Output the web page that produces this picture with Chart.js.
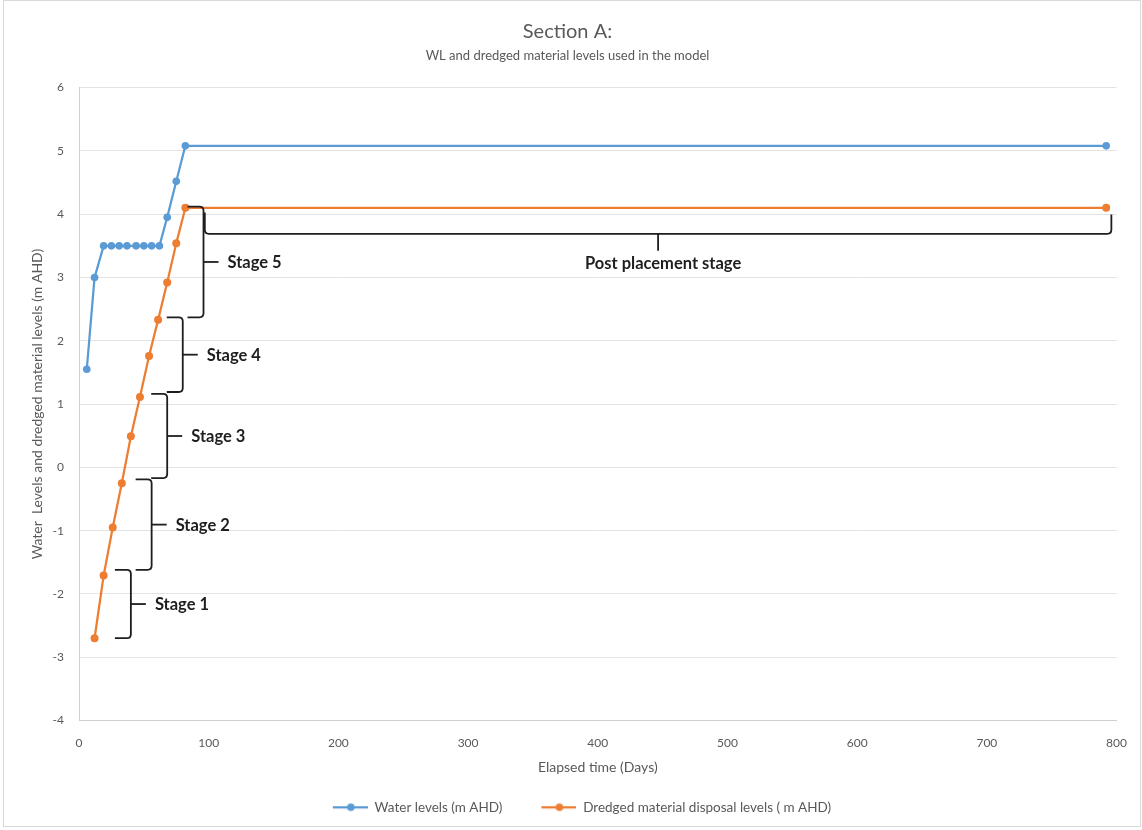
<!DOCTYPE html>
<html>
<head>
<meta charset="utf-8">
<title>Section A: WL and dredged material levels</title>
<script src="https://cdn.jsdelivr.net/npm/chart.js@4/dist/chart.umd.min.js"></script>
<style>
  html, body { margin: 0; padding: 0; background: #ffffff; }
  #wrap { width: 1142px; height: 830px; position: relative; }
</style>
</head>
<body>
<div id="wrap"><canvas id="chart" width="1142" height="830"></canvas></div>
<script>
// Water levels (m AHD) against elapsed time (days)
const waterDays   = [6, 12, 19, 25, 31, 37, 44, 50, 56, 62, 68, 75, 82, 792];
const waterLevels = [1.55, 3.0, 3.5, 3.5, 3.5, 3.5, 3.5, 3.5, 3.5, 3.5, 3.95, 4.52, 5.08, 5.08];

// Dredged material disposal levels (m AHD) against elapsed time (days)
const disposalDays   = [12, 19, 26, 33, 40, 47, 54, 61, 68, 75, 82, 792];
const disposalLevels = [-2.7, -1.71, -0.95, -0.25, 0.49, 1.11, 1.76, 2.33, 2.92, 3.54, 4.1, 4.1];

// Placement stages: brace spine (days) and the level range each stage covers
const stageNames   = ['Stage 1', 'Stage 2', 'Stage 3', 'Stage 4', 'Stage 5'];
const stageSpine   = [40, 56, 68, 80, 96];
const stageTop     = [-1.62, -0.19, 1.16, 2.37, 4.12];
const stageBottom  = [-2.7, -1.62, -0.17, 1.19, 2.37];

// Post placement stage: time span and brace level
const postName  = 'Post placement stage';
const postFrom  = 97;
const postTo    = 796;
const postLevel = 3.69;
const postTop   = 4.12;

const seriesNames = ['Water levels (m AHD)', 'Dredged material disposal levels ( m AHD)'];
const seriesColors = ['#5b9bd5', '#ed7d31'];

const xTicks = [0, 100, 200, 300, 400, 500, 600, 700, 800];
const yTicks = [-4, -3, -2, -1, 0, 1, 2, 3, 4, 5, 6];

const toPoints = (xs, ys) => xs.map((x, i) => ({ x: x, y: ys[i] }));

// Legend swatch: short line with a marker in the middle
function legendSwatch(color) {
  const c = document.createElement('canvas');
  c.width = 64; c.height = 12;
  const g = c.getContext('2d');
  g.strokeStyle = color; g.lineWidth = 2.25;
  g.beginPath(); g.moveTo(29, 6); g.lineTo(64, 6); g.stroke();
  g.fillStyle = color;
  g.beginPath(); g.arc(47, 6, 3.8, 0, Math.PI * 2); g.fill();
  return c;
}
const swatches = seriesColors.map(legendSwatch);

// Curly braces and stage captions drawn over the plot
const bracePlugin = {
  id: 'stageBraces',
  afterDatasetsDraw(chart) {
    const ctx = chart.ctx;
    const xs = chart.scales.x, ys = chart.scales.y;
    ctx.save();
    ctx.strokeStyle = '#1e1e1e';
    ctx.lineWidth = 1.8;
    ctx.lineJoin = 'round';
    ctx.fillStyle = '#1e1e1e';
    ctx.font = 'bold 16.5px Lato, "Open Sans", sans-serif';
    const endLen = 16, pointer = 15, r = 4;
    for (let i = 0; i < stageNames.length; i++) {
      const sx = xs.getPixelForValue(stageSpine[i]);
      const yt = ys.getPixelForValue(stageTop[i]);
      const yb = ys.getPixelForValue(stageBottom[i]);
      const ym = (yt + yb) / 2;
      ctx.beginPath();
      ctx.moveTo(sx - endLen, yt);
      ctx.lineTo(sx - r, yt);
      ctx.quadraticCurveTo(sx, yt, sx, yt + r);
      ctx.lineTo(sx, yb - r);
      ctx.quadraticCurveTo(sx, yb, sx - r, yb);
      ctx.lineTo(sx - endLen, yb);
      ctx.stroke();
      ctx.beginPath();
      ctx.moveTo(sx, ym);
      ctx.lineTo(sx + pointer, ym);
      ctx.stroke();
      ctx.textAlign = 'left';
      ctx.textBaseline = 'middle';
      ctx.fillText(stageNames[i], sx + pointer + 9, ym + 1);
    }
    // horizontal brace for the post placement period
    const x1 = xs.getPixelForValue(postFrom);
    const x2 = xs.getPixelForValue(postTo);
    const yl = ys.getPixelForValue(postLevel);
    const yu = ys.getPixelForValue(postTop);
    const xm = (x1 + x2) / 2;
    ctx.beginPath();
    ctx.moveTo(x1, yu + 6);
    ctx.lineTo(x1, yl - r);
    ctx.quadraticCurveTo(x1, yl, x1 + r, yl);
    ctx.lineTo(x2 - r, yl);
    ctx.quadraticCurveTo(x2, yl, x2, yl - r);
    ctx.lineTo(x2, yu + 8);
    ctx.stroke();
    ctx.beginPath();
    ctx.moveTo(xm, yl);
    ctx.lineTo(xm, yl + 17);
    ctx.stroke();
    ctx.textAlign = 'center';
    ctx.textBaseline = 'middle';
    ctx.fillText(postName, xm + 5, yl + 30);
    ctx.restore();
  }
};

// Thin frame round the whole chart
const framePlugin = {
  id: 'frame',
  beforeDraw(chart) {
    const ctx = chart.ctx;
    ctx.save();
    ctx.fillStyle = '#ffffff';
    ctx.fillRect(0, 0, chart.width, chart.height);
    ctx.strokeStyle = '#d9d9d9';
    ctx.lineWidth = 1;
    ctx.strokeRect(3.5, 0.5, chart.width - 5, chart.height - 4);
    ctx.restore();
  }
};

const textColor = '#595959';
const fontFamily = 'Lato, "Open Sans", sans-serif';

new Chart(document.getElementById('chart'), {
  type: 'line',
  data: {
    datasets: [
      {
        label: seriesNames[0],
        data: toPoints(waterDays, waterLevels),
        borderColor: seriesColors[0],
        backgroundColor: seriesColors[0],
        borderWidth: 2.25,
        pointRadius: 3.8,
        pointHoverRadius: 3.8,
        pointBackgroundColor: seriesColors[0],
        pointBorderWidth: 0,
        tension: 0
      },
      {
        label: seriesNames[1],
        data: toPoints(disposalDays, disposalLevels),
        borderColor: seriesColors[1],
        backgroundColor: seriesColors[1],
        borderWidth: 2.25,
        pointRadius: 4,
        pointHoverRadius: 4,
        pointBackgroundColor: seriesColors[1],
        pointBorderWidth: 0,
        tension: 0
      }
    ]
  },
  options: {
    responsive: false,
    animation: false,
    events: [],
    layout: { padding: { left: 18, right: 25, top: 10, bottom: 6 } },
    scales: {
      x: {
        type: 'linear',
        min: xTicks[0],
        max: xTicks[xTicks.length - 1],
        afterBuildTicks(s) { s.ticks = xTicks.map(v => ({ value: v })); },
        afterFit(s) { s.height = 70; },
        grid: { display: false, drawTicks: false },
        border: { display: true, color: '#d0d0d0', width: 1 },
        ticks: {
          color: textColor,
          font: { family: fontFamily, size: 12 },
          padding: 15,
          maxRotation: 0
        },
        title: {
          display: true,
          text: 'Elapsed time (Days)',
          color: textColor,
          font: { family: fontFamily, size: 14 },
          padding: { top: 6, bottom: 14.6 }
        }
      },
      y: {
        type: 'linear',
        min: yTicks[0],
        max: yTicks[yTicks.length - 1],
        afterBuildTicks(s) { s.ticks = yTicks.map(v => ({ value: v })); },
        afterFit(s) { s.width = 61; },
        grid: { color: '#e3e3e3', lineWidth: 1, drawTicks: false },
        border: { display: true, color: '#d0d0d0', width: 1 },
        ticks: {
          color: textColor,
          font: { family: fontFamily, size: 12 },
          padding: 15
        },
        title: {
          display: true,
          text: 'Water  Levels and dredged material levels (m AHD)',
          color: textColor,
          font: { family: fontFamily, size: 14 },
          padding: { top: 11, bottom: 0 }
        }
      }
    },
    plugins: {
      title: {
        display: true,
        text: 'Section A:',
        color: textColor,
        font: { family: fontFamily, size: 20, weight: 'normal' },
        padding: { top: 10, bottom: 4 }
      },
      subtitle: {
        display: true,
        text: 'WL and dredged material levels used in the model',
        color: textColor,
        font: { family: fontFamily, size: 13 },
        padding: { top: 0, bottom: 24 }
      },
      legend: {
        display: true,
        position: 'bottom',
        labels: {
          usePointStyle: true,
          pointStyleWidth: 64,
          padding: 10,
          color: textColor,
          font: { family: fontFamily, size: 13.5 },
          generateLabels(chart) {
            return chart.data.datasets.map((ds, i) => ({
              text: ds.label,
              pointStyle: swatches[i],
              fillStyle: ds.borderColor,
              strokeStyle: ds.borderColor,
              lineWidth: 0,
              fontColor: textColor,
              hidden: false,
              datasetIndex: i
            }));
          }
        }
      },
      tooltip: { enabled: false }
    }
  },
  plugins: [framePlugin, bracePlugin]
});
</script>
</body>
</html>
